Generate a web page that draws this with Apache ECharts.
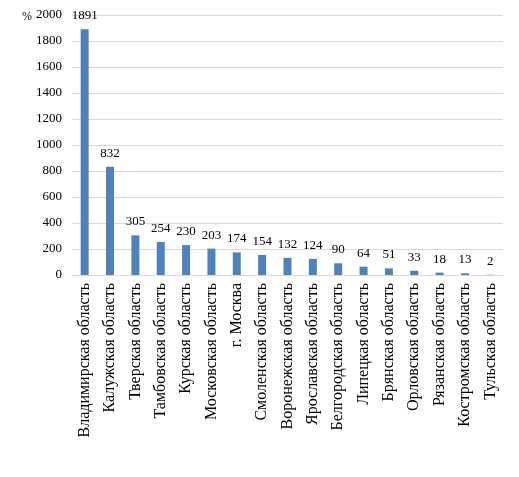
<!DOCTYPE html>
<html>
<head>
<meta charset="utf-8">
<script src="https://cdn.jsdelivr.net/npm/echarts@6/dist/echarts.min.js"></script>
<style>
html, body {margin: 0; padding: 0; background: #fff;}
#chart {width: 519px; height: 477px;}
</style>
</head>
<body>
<div id="chart"></div>
<script>
var regions = ['Владимирская область', 'Калужская область', 'Тверская область', 'Тамбовская область',
    'Курская область', 'Московская область', 'г. Москва', 'Смоленская область', 'Воронежская область',
    'Ярославская область', 'Белгородская область', 'Липецкая область', 'Брянская область',
    'Орловская область', 'Рязанская область', 'Костромская область', 'Тульская область'];
var values = [1891, 832, 305, 254, 230, 203, 174, 154, 132, 124, 90, 64, 51, 33, 18, 13, 2];

var font = '"Liberation Serif", "Times New Roman", serif';
var myChart = echarts.init(document.getElementById('chart'));
myChart.setOption({
    animation: false,
    textStyle: {fontFamily: font},
    grid: {left: 72, right: 16, top: 15, bottom: 202},
    graphic: [{
        type: 'text', left: 22, top: 11,
        style: {text: '%', fontFamily: font, fontSize: 12, fill: '#000'}
    }],
    xAxis: {
        type: 'category',
        data: regions,
        axisLine: {lineStyle: {color: '#d9d9d9'}},
        axisTick: {show: false},
        axisLabel: {
            rotate: 90, interval: 0, margin: 8,
            fontFamily: font, fontSize: 16, color: '#000'
        }
    },
    yAxis: {
        type: 'value', min: 0, max: 2000, interval: 200,
        axisLine: {show: false},
        axisTick: {show: false},
        splitLine: {lineStyle: {color: '#d9d9d9'}},
        axisLabel: {
            fontFamily: font, fontSize: 13, color: '#000', margin: 10,
            formatter: function (v) { return String(v); }
        }
    },
    series: [{
        type: 'bar',
        data: values,
        barWidth: 8,
        itemStyle: {color: '#4f81bd'},
        label: {
            show: true, position: 'top', distance: 7,
            fontFamily: font, fontSize: 13, color: '#000'
        }
    }]
});
</script>
</body>
</html>
